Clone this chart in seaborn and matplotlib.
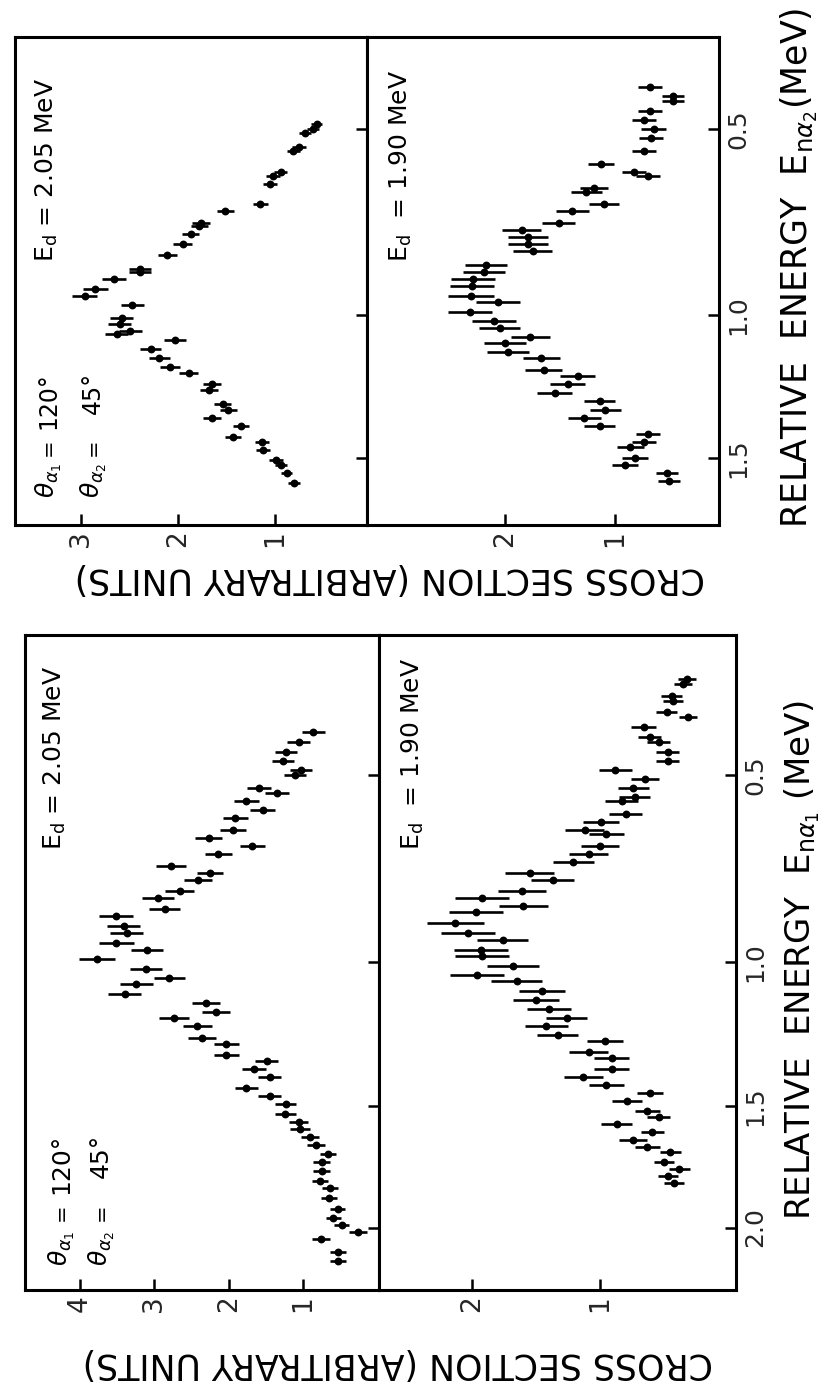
import numpy as np
import matplotlib
matplotlib.use('Agg')
import matplotlib.pyplot as plt
from matplotlib.ticker import NullLocator
import seaborn as sns

sns.set_style('white')
plt.rcParams['font.family'] = ['DejaVu Sans']
plt.rcParams['mathtext.fontset'] = 'dejavusans'

# ---------------- data (relative energy in MeV, cross section in arbitrary units) ----
# alpha2 spectrum, Ed = 2.05 MeV
a2_205_E = [0.49, 0.50, 0.51, 0.54, 0.55, 0.60, 0.61, 0.63, 0.68, 0.70, 0.73, 0.74, 0.76, 0.79,
            0.82, 0.86, 0.87, 0.89, 0.92, 0.94, 0.97, 1.01, 1.03, 1.05, 1.06, 1.08, 1.11, 1.14,
            1.17, 1.19, 1.23, 1.25, 1.30, 1.32, 1.35, 1.38, 1.42, 1.44, 1.47, 1.51, 1.53, 1.56, 1.60]
a2_205_cs = [0.57, 0.61, 0.69, 0.75, 0.81, 0.94, 1.02, 1.05, 1.15, 1.51, 1.76, 1.78, 1.87, 1.95,
             2.11, 2.39, 2.39, 2.66, 2.85, 2.96, 2.47, 2.58, 2.60, 2.49, 2.63, 2.03, 2.28, 2.19,
             2.08, 1.89, 1.65, 1.68, 1.54, 1.48, 1.65, 1.35, 1.43, 1.13, 1.12, 0.99, 0.94, 0.88, 0.80]
a2_205_err = [0.06, 0.06, 0.06, 0.07, 0.07, 0.07, 0.07, 0.07, 0.08, 0.09, 0.09, 0.09, 0.09, 0.10,
              0.10, 0.11, 0.11, 0.12, 0.13, 0.13, 0.12, 0.12, 0.12, 0.12, 0.12, 0.11, 0.11, 0.11,
              0.10, 0.10, 0.09, 0.09, 0.09, 0.09, 0.09, 0.08, 0.08, 0.07, 0.07, 0.07, 0.06, 0.06, 0.06]

# alpha2 spectrum, Ed = 1.90 MeV
a2_190_E = [0.41, 0.43, 0.44, 0.46, 0.48, 0.50, 0.52, 0.55, 0.58, 0.60, 0.61, 0.64, 0.65, 0.68,
            0.70, 0.73, 0.75, 0.77, 0.79, 0.81, 0.85, 0.87, 0.89, 0.91, 0.94, 0.96, 0.99, 1.02,
            1.04, 1.07, 1.09, 1.12, 1.14, 1.18, 1.20, 1.23, 1.26, 1.29, 1.32, 1.35, 1.38, 1.41,
            1.44, 1.46, 1.50, 1.53, 1.56, 1.59]
a2_190_cs = [0.68, 0.47, 0.47, 0.68, 0.74, 0.65, 0.67, 0.74, 1.13, 0.83, 0.70, 1.19, 1.26, 1.10,
             1.39, 1.51, 1.85, 1.79, 1.79, 1.75, 2.17, 2.19, 2.29, 2.30, 2.31, 2.06, 2.32, 2.10,
             2.05, 1.77, 2.00, 1.97, 1.67, 1.65, 1.34, 1.43, 1.55, 1.14, 1.09, 1.28, 1.14, 0.70,
             0.74, 0.86, 0.82, 0.91, 0.53, 0.51]
a2_190_err = [0.11, 0.10, 0.10, 0.11, 0.11, 0.11, 0.11, 0.11, 0.12, 0.11, 0.11, 0.13, 0.14, 0.14,
              0.15, 0.15, 0.18, 0.18, 0.18, 0.18, 0.19, 0.19, 0.20, 0.20, 0.21, 0.20, 0.20, 0.20,
              0.19, 0.18, 0.19, 0.19, 0.17, 0.17, 0.16, 0.16, 0.16, 0.14, 0.14, 0.15, 0.14, 0.11,
              0.11, 0.12, 0.12, 0.12, 0.10, 0.10]

# alpha1 spectrum, Ed = 2.05 MeV
a1_205_E = [0.41, 0.43, 0.45, 0.47, 0.49, 0.50, 0.53, 0.54, 0.56, 0.58, 0.60, 0.63, 0.65, 0.67,
            0.69, 0.72, 0.74, 0.76, 0.79, 0.81, 0.84, 0.86, 0.89, 0.91, 0.94, 0.96, 0.99, 1.02,
            1.05, 1.07, 1.10, 1.13, 1.16, 1.18, 1.21, 1.25, 1.27, 1.31, 1.33, 1.36, 1.39, 1.43,
            1.46, 1.49, 1.53, 1.56, 1.59, 1.62, 1.65, 1.69, 1.72, 1.76, 1.80, 1.83, 1.87, 1.92,
            1.96, 1.99, 2.02, 2.05, 2.11, 2.15]
a1_205_cs = [0.86, 1.06, 1.23, 1.27, 1.03, 1.11, 1.59, 1.35, 1.76, 1.54, 1.91, 1.94, 2.27, 1.68,
             2.14, 2.78, 2.25, 2.41, 2.66, 2.95, 2.86, 3.52, 3.41, 3.37, 3.51, 3.10, 3.77, 3.11,
             2.80, 3.24, 3.40, 2.30, 2.17, 2.74, 2.42, 2.36, 2.03, 2.03, 1.49, 1.66, 1.45, 1.76,
             1.45, 1.23, 1.24, 1.06, 1.04, 0.90, 0.83, 0.66, 0.75, 0.75, 0.77, 0.64, 0.65, 0.53,
             0.59, 0.48, 0.26, 0.76, 0.53, 0.53]
a1_205_err = [0.15, 0.15, 0.15, 0.15, 0.15, 0.15, 0.16, 0.16, 0.17, 0.17, 0.17, 0.17, 0.18, 0.17,
              0.18, 0.20, 0.18, 0.19, 0.20, 0.21, 0.21, 0.23, 0.22, 0.22, 0.23, 0.22, 0.24, 0.22,
              0.21, 0.22, 0.22, 0.19, 0.19, 0.20, 0.19, 0.19, 0.17, 0.17, 0.15, 0.16, 0.15, 0.16,
              0.15, 0.14, 0.14, 0.13, 0.13, 0.12, 0.12, 0.11, 0.11, 0.11, 0.11, 0.11, 0.11, 0.10,
              0.10, 0.10, 0.12, 0.12, 0.11, 0.11]

# alpha1 spectrum, Ed = 1.90 MeV
a1_190_E = [0.31, 0.32, 0.34, 0.35, 0.37, 0.38, 0.40, 0.42, 0.43, 0.45, 0.47, 0.49, 0.51, 0.53,
            0.55, 0.56, 0.59, 0.61, 0.63, 0.64, 0.67, 0.69, 0.71, 0.74, 0.76, 0.79, 0.81, 0.83,
            0.85, 0.88, 0.91, 0.93, 0.96, 0.98, 1.01, 1.04, 1.06, 1.09, 1.12, 1.15, 1.18, 1.21,
            1.24, 1.26, 1.30, 1.32, 1.36, 1.39, 1.42, 1.45, 1.48, 1.52, 1.54, 1.57, 1.60, 1.63,
            1.66, 1.68, 1.72, 1.75, 1.78, 1.81]
a1_190_cs = [0.32, 0.35, 0.44, 0.43, 0.48, 0.31, 0.66, 0.61, 0.54, 0.47, 0.47, 0.88, 0.65, 0.74,
             0.73, 0.83, 0.80, 0.99, 1.12, 0.95, 1.00, 1.09, 1.21, 1.55, 1.37, 1.61, 1.92, 1.60,
             1.97, 2.13, 2.03, 1.76, 1.93, 1.92, 1.68, 1.96, 1.65, 1.45, 1.50, 1.40, 1.26, 1.42,
             1.33, 0.96, 1.09, 0.91, 0.91, 1.13, 0.95, 0.61, 0.79, 0.63, 0.54, 0.87, 0.59, 0.74,
             0.63, 0.45, 0.50, 0.38, 0.47, 0.42]
a1_190_err = [0.07, 0.07, 0.08, 0.08, 0.08, 0.07, 0.10, 0.09, 0.09, 0.09, 0.09, 0.13, 0.11, 0.12,
              0.12, 0.13, 0.13, 0.14, 0.15, 0.14, 0.15, 0.15, 0.16, 0.19, 0.17, 0.19, 0.21, 0.19,
              0.21, 0.22, 0.21, 0.20, 0.21, 0.21, 0.20, 0.21, 0.20, 0.18, 0.18, 0.17, 0.16, 0.17,
              0.16, 0.14, 0.15, 0.14, 0.14, 0.15, 0.14, 0.10, 0.12, 0.10, 0.09, 0.12, 0.09, 0.11,
              0.10, 0.08, 0.08, 0.08, 0.08, 0.08]

energy_ticks_a2 = [0.5, 1.0, 1.5]
energy_ticks_a1 = [0.5, 1.0, 1.5, 2.0]
energy_ticklabels_a2 = ['0.5', '1.0', '1.5']
energy_ticklabels_a1 = ['0.5', '1.0', '1.5', '2.0']

label_cs = 'CROSS SECTION (ARBITRARY UNITS)'
label_e2 = r'RELATIVE  ENERGY  $\mathrm{E}_{\mathrm{n}\alpha_2}$(MeV)'
label_e1 = r'RELATIVE  ENERGY  $\mathrm{E}_{\mathrm{n}\alpha_1}$ (MeV)'
txt_205 = r'$\mathrm{E_d}$ = 2.05 MeV'
txt_190 = r'$\mathrm{E_d}$  = 1.90 MeV'
txt_th1 = r'$\theta_{\alpha_1}$'
txt_th2 = r'$\theta_{\alpha_2}$'

# ---------------- layout helpers (figure is drawn rotated by 90 degrees) ------------
W, H = 832, 1388
fig = plt.figure(figsize=(W / 100, H / 100), dpi=100)
fig.patch.set_facecolor('white')


def rect(x0, y0, x1, y1):
    return [x0 / W, 1 - y1 / H, (x1 - x0) / W, (y1 - y0) / H]


def fpt(x, y):
    return x / W, 1 - y / H


TICK = dict(direction='in', length=8, width=1.8, color='k')


def panel(r, E, cs, err, xlim, ylim, xticks, eticks, elabels):
    ax = fig.add_axes(r)
    ax.errorbar(cs, E, xerr=err, fmt='none', ecolor='k', elinewidth=1.9, capsize=0, zorder=2)
    sns.scatterplot(x=cs, y=E, ax=ax, color='k', s=32, edgecolor='k', linewidth=0, zorder=3)
    ax.set_yscale('function', functions=(np.sqrt, np.square))
    ax.set_xlim(*xlim)
    ax.set_ylim(*ylim)
    ax.set_xticks(xticks)
    ax.set_xticklabels([str(t) for t in xticks], rotation=90, fontsize=19)
    ax.yaxis.tick_right()
    ax.set_yticks(eticks)
    ax.yaxis.set_minor_locator(NullLocator())
    ax.xaxis.set_minor_locator(NullLocator())
    if elabels:
        ax.set_yticklabels(elabels, rotation=90, va='center', fontsize=18)
    else:
        ax.set_yticklabels([])
    ax.tick_params(axis='x', bottom=True, top=False, pad=4, **TICK)
    ax.tick_params(axis='y', right=True, left=False, pad=5, **TICK)
    ax.set_xlabel('')
    ax.set_ylabel('')
    for sp in ax.spines.values():
        sp.set_visible(True)
        sp.set_color('k')
        sp.set_linewidth(2.2)
    return ax


def rtext(x, y, s, size, ha='left', rot=90, va='baseline'):
    fig.text(*fpt(x, y), s, rotation=rot, rotation_mode='anchor', ha=ha, va=va,
             fontsize=size, color='k')


# ---------------- top figure: alpha2 spectra ----------------------------------------
ylim_a2 = (1.7708, 0.3161)
panel(rect(15, 37, 367, 525), a2_205_E, a2_205_cs, a2_205_err, (3.68, 0.05), ylim_a2,
      [1, 2, 3], energy_ticks_a2, None)
panel(rect(367, 37, 719, 525), a2_190_E, a2_190_cs, a2_190_err, (3.255, 0.055), ylim_a2,
      [1, 2], energy_ticks_a2, energy_ticklabels_a2)

rtext(54, 262, txt_205, 18)
rtext(408, 262, txt_190, 18)
rtext(55, 498, txt_th1, 18)
rtext(100, 498, txt_th2, 18)
rtext(55, 447, '=', 15, ha='center')
rtext(100, 447, '=', 15, ha='center')
rtext(55, 372, '120°', 17, ha='right')
rtext(100, 372, '45°', 17, ha='right')
rtext(390, 578, label_cs, 25, ha='center', rot=180, va='center')
rtext(808, 268, label_e2, 25, ha='center')

# ---------------- bottom figure: alpha1 spectra -------------------------------------
ylim_a1 = (2.2856, 0.2385)
panel(rect(25, 635, 379, 1290), a1_205_E, a1_205_cs, a1_205_err, (4.74, -0.023), ylim_a1,
      [1, 2, 3, 4], energy_ticks_a1, None)
panel(rect(379, 635, 736, 1290), a1_190_E, a1_190_cs, a1_190_err, (2.727, -0.0625), ylim_a1,
      [1, 2], energy_ticks_a1, energy_ticklabels_a1)

rtext(62, 850, txt_205, 18)
rtext(420, 850, txt_190, 18)
rtext(68, 1266, txt_th1, 18)
rtext(108, 1266, txt_th2, 18)
rtext(68, 1212, '=', 15, ha='center')
rtext(108, 1212, '=', 15, ha='center')
rtext(68, 1134, '120°', 18, ha='right')
rtext(108, 1134, '45°', 18, ha='right')
rtext(398, 1363, label_cs, 25, ha='center', rot=180, va='center')
rtext(810, 960, label_e1, 24.5, ha='center')

fig.savefig('out.png', dpi=100, facecolor='white')
